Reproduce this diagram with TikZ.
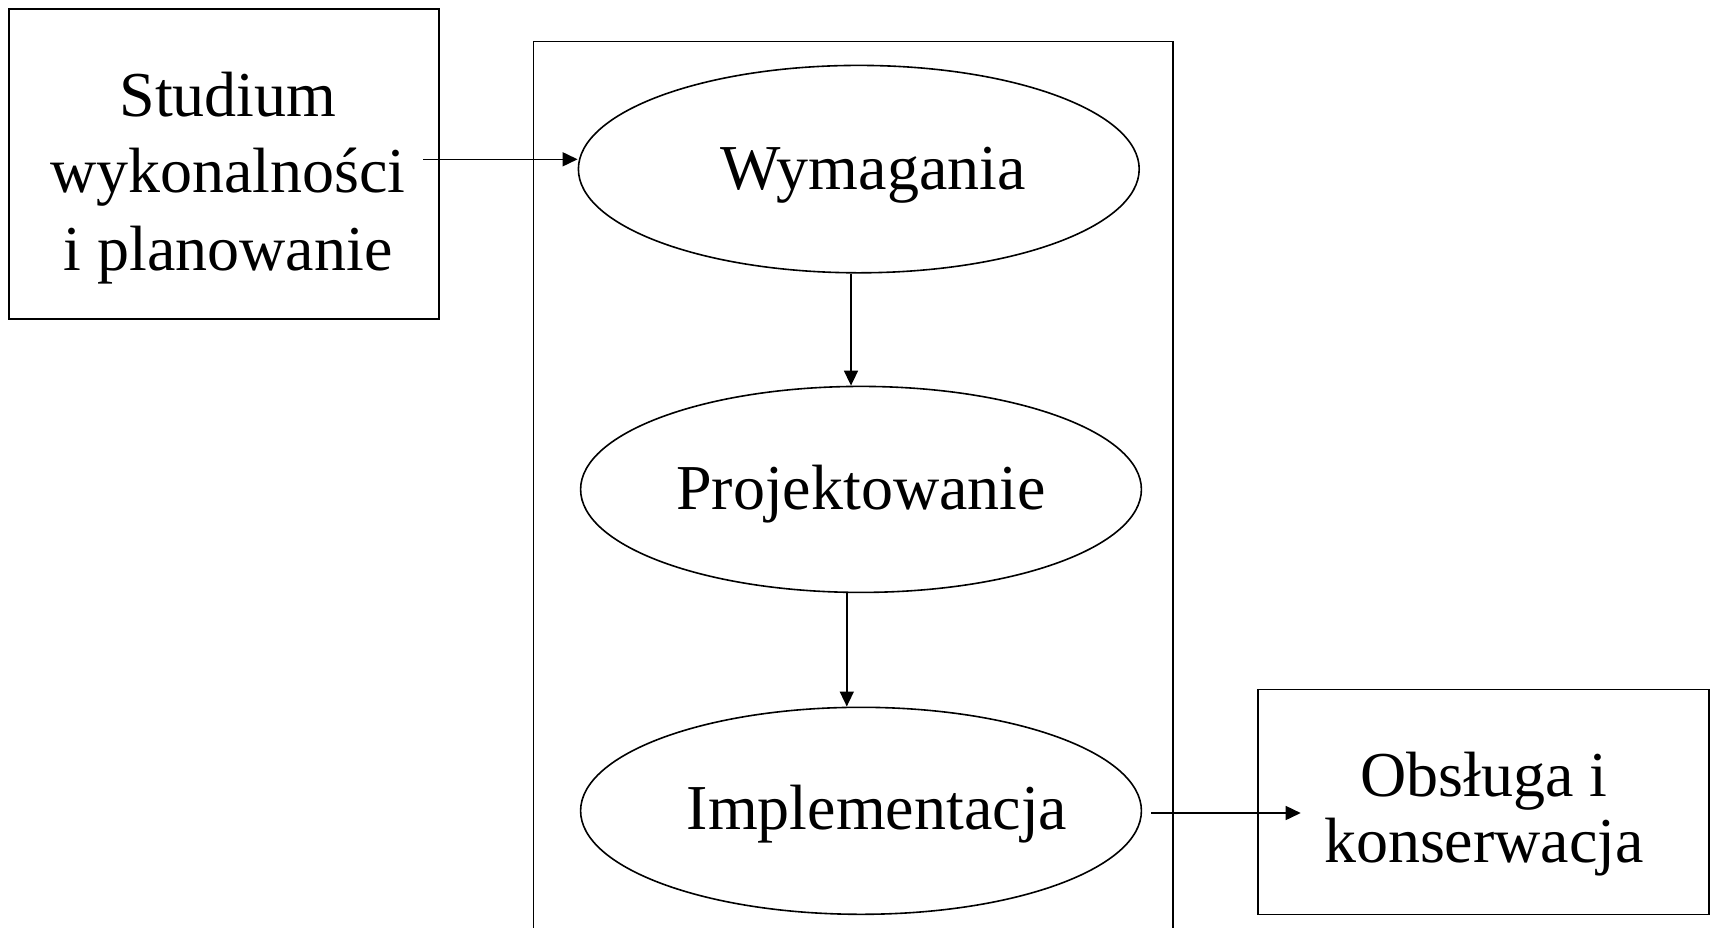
\documentclass[tikz,border=0pt]{standalone}
\usepackage{fontspec}
\setmainfont{Liberation Serif}
\usetikzlibrary{shapes.geometric,arrows.meta}

\tikzset{
  stroke/.style={draw=black, line width=1.6pt},
  box/.style={stroke, rectangle, inner sep=0pt},
  phase/.style={stroke, ellipse, inner sep=0pt, minimum width=560.8pt},
  label/.style={anchor=base, inner sep=0pt, font=\fontsize{64}{75}\selectfont},
  arr/.style={line width=1.6pt, -{Triangle[length=15pt,width=14pt]}}
}

\begin{document}
\begin{tikzpicture}[x=1pt,y=-1pt]
  \useasboundingbox (0,0) rectangle (1711,927);
  \clip (0,0) rectangle (1711,927);
  \fill[white] (0,0) rectangle (1711,927);

  % outer frame of the development phases (runs past the lower edge)
  \node[box, minimum width=639.4pt, minimum height=930pt] (frame) at (853.3,506.5) {};

  % side boxes
  \node[box, minimum width=430pt, minimum height=310pt] (feas) at (223.7,163.7) {};
  \node[box, minimum width=451pt, minimum height=224.8pt] (maint) at (1483.5,802) {};

  % phases
  \node[phase, minimum height=207.4pt] (wym) at (858.8,169.1) {};
  \node[phase, minimum height=206pt] (proj) at (861,489.4) {};
  \node[phase, minimum height=207pt] (impl) at (861,810.8) {};

  % texts
  \node[label] (t1) at (228,116.7) {Studium};
  \node[label] (t2) at (228,192.5) {wykonalności};
  \node[label] (t3) at (228,270) {i planowanie};
  \node[label] (tw) at (873,189) {Wymagania};
  \node[label] (tp) at (861,509.6) {Projektowanie};
  \node[label] (ti) at (877,829) {Implementacja};
  \node[label] (tm1) at (1484,796) {Obsługa i};
  \node[label] (tm2) at (1484,862) {konserwacja};

  % connectors
  \coordinate (s1) at (423,159.3);
  \draw[arr] (s1) -- (s1 -| wym.west);
  \coordinate (c2) at (851,0);
  \draw[arr] (c2 |- wym.south) -- (c2 |- proj.north);
  \coordinate (c3) at (846.8,0);
  \draw[arr] (c3 |- proj.south) -- (c3 |- impl.north);
  \coordinate (s4) at (1151,813);
  \coordinate (e4) at (1300.7,813);
  \draw[arr] (s4) -- (e4);
\end{tikzpicture}
\end{document}
